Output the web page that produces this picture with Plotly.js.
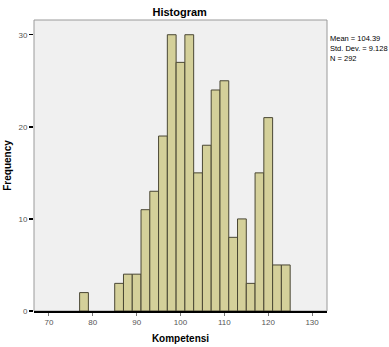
<!DOCTYPE html>
<html>
<head>
<meta charset="utf-8">
<script src="https://cdn.plot.ly/plotly-3.0.1.min.js"></script>
<style>html,body{margin:0;padding:0;background:#fff;}#chart{width:389px;height:347px;}</style>
</head>
<body>
<div id="chart"></div>
<script>
// Bin centres (bin width 2) and frequencies
var binCenters = [78, 86, 88, 90, 92, 94, 96, 98, 100, 102, 104, 106, 108, 110, 112, 114, 116, 118, 120, 122, 124];
var counts     = [2, 3, 4, 4, 11, 13, 19, 30, 27, 30, 15, 18, 24, 25, 8, 10, 3, 15, 21, 5, 5];
var binWidth = 2;
var xTicks = [70, 80, 90, 100, 110, 120, 130];
var yTicks = [0, 10, 20, 30];
var statsLines = ["Mean = 104.39", "Std. Dev. = 9.128", "N = 292"];

var trace = {
  type: 'bar',
  x: binCenters,
  y: counts,
  width: binCenters.map(function(){return binWidth;}),
  marker: {color: '#d4d09a', line: {color: '#4a4734', width: 1}},
  hoverinfo: 'skip'
};

var layout = {
  width: 389, height: 347,
  margin: {l: 34, r: 62, t: 20, b: 36},
  paper_bgcolor: '#ffffff',
  plot_bgcolor: '#f0f0f0',
  showlegend: false,
  bargap: 0,
  font: {family: 'Liberation Sans, Arial, sans-serif', color: '#000'},
  title: {text: '<b>Histogram</b>', font: {size: 11, color: '#000'}, x: 0.462, xanchor: 'center', y: 0.965, yanchor: 'middle'},
  xaxis: {
    range: [66.6, 133.4],
    tickvals: xTicks,
    ticktext: xTicks.map(String),
    ticks: 'outside', ticklen: 3, tickcolor: '#777', tickwidth: 1,
    tickfont: {size: 8, color: '#555'},
    showgrid: false, zeroline: false,
    showline: true, linecolor: '#000', linewidth: 1.5,
    title: {text: '<b>Kompetensi</b>', font: {size: 10, color: '#000'}, standoff: 9}
  },
  yaxis: {
    range: [0, 31.6],
    tickvals: yTicks,
    ticktext: yTicks.map(String),
    ticks: 'outside', ticklen: 4, tickcolor: '#000', tickwidth: 1.5,
    tickfont: {size: 8, color: '#555'},
    showgrid: false, zeroline: false,
    showline: false,
    title: {text: '<b>Frequency</b>', font: {size: 10, color: '#000'}, standoff: 4}
  },
  shapes: [{
    type: 'rect', xref: 'paper', yref: 'paper', x0: 0, x1: 1, y0: 0, y1: 1,
    line: {color: '#9a9a9a', width: 1}, layer: 'below'
  }],
  annotations: [{
    xref: 'paper', yref: 'paper', x: 1.005, y: 0.96,
    xanchor: 'left', yanchor: 'top', align: 'left',
    showarrow: false,
    text: statsLines.join('<br>'),
    font: {size: 7.5, color: '#000', family: 'Liberation Sans, Arial, sans-serif'}
  }]
};

Plotly.newPlot('chart', [trace], layout, {displayModeBar: false, staticPlot: true});
</script>
</body>
</html>
